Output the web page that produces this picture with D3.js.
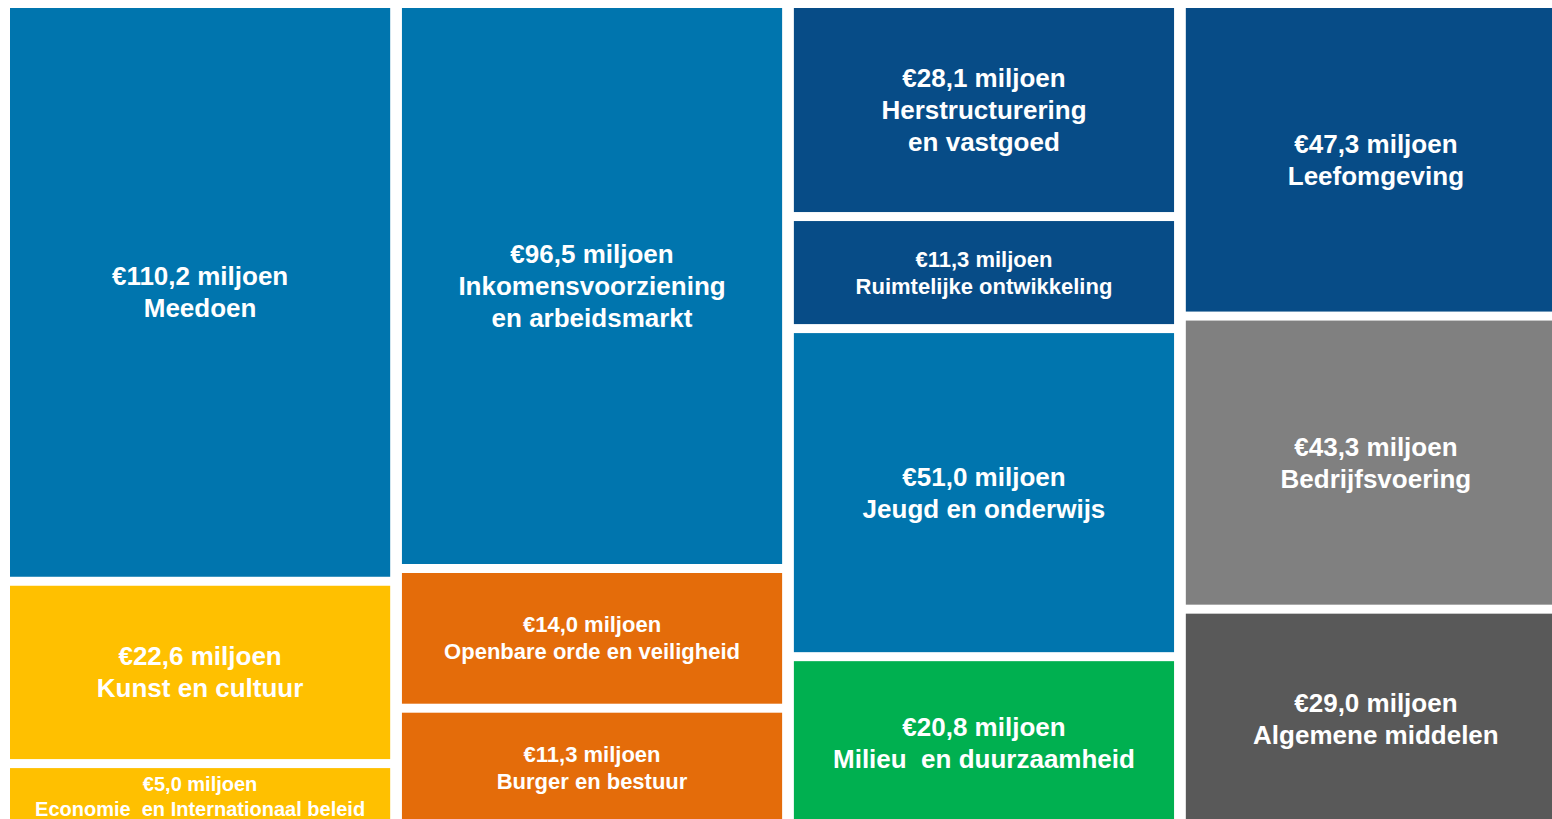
<!DOCTYPE html>
<html lang="nl">
<head>
<meta charset="utf-8">
<script src="https://cdn.jsdelivr.net/npm/d3@7"></script>
<style>
  html, body { margin: 0; padding: 0; background: #ffffff; overflow: hidden; }
  svg { display: block; }
  text { font-family: "Liberation Sans", Arial, sans-serif; font-weight: bold; fill: #ffffff; }
</style>
</head>
<body>
<svg id="chart" width="1552" height="819"></svg>
<script>
// Begroting per programma (bedragen in miljoenen euro's)
const categories = [
  "Meedoen", "Kunst en cultuur", "Economie  en Internationaal beleid",
  "Inkomensvoorziening en arbeidsmarkt", "Openbare orde en veiligheid", "Burger en bestuur",
  "Herstructurering en vastgoed", "Ruimtelijke ontwikkeling", "Jeugd en onderwijs", "Milieu  en duurzaamheid",
  "Leefomgeving", "Bedrijfsvoering", "Algemene middelen"
];
const values = [110.2, 22.6, 5.0, 96.5, 14.0, 11.3, 28.1, 11.3, 51.0, 20.8, 47.3, 43.3, 29.0];
const columnOf = [0, 0, 0, 1, 1, 1, 2, 2, 2, 2, 3, 3, 3];
const columns = [0, 1, 2, 3];

// Kleuren per programma
const palette = {
  "Meedoen": "#0075ae",
  "Kunst en cultuur": "#ffc000",
  "Economie  en Internationaal beleid": "#ffc000",
  "Inkomensvoorziening en arbeidsmarkt": "#0075ae",
  "Openbare orde en veiligheid": "#e46c0a",
  "Burger en bestuur": "#e46c0a",
  "Herstructurering en vastgoed": "#074c87",
  "Ruimtelijke ontwikkeling": "#074c87",
  "Jeugd en onderwijs": "#0075ae",
  "Milieu  en duurzaamheid": "#00b050",
  "Leefomgeving": "#074c87",
  "Bedrijfsvoering": "#808080",
  "Algemene middelen": "#595959"
};
const colour = d3.scaleOrdinal().domain(Object.keys(palette)).range(Object.values(palette));

const nl = d3.formatLocale({ decimal: ",", thousands: ".", grouping: [3], currency: ["€", ""] });
const fmt = nl.format(".1f");

const svg = d3.select("#chart");
const yTop = 8, yBottom = 824, gap = 9;

// Gelijke kolommen naast elkaar
const x = d3.scaleBand().domain(columns).range([10, 1566]).paddingInner(0.03).paddingOuter(0);

// Blokhoogte groeit met een machtsschaal van het bedrag
const size = d3.scalePow().exponent(0.75).domain([0, 1]).range([0, 1]);

// Lettergrootte naar bedrag
const fontSize = d3.scaleThreshold().domain([10, 20]).range([20, 22, 26]);

const cells = [];
columns.forEach(c => {
  const idx = values.map((v, i) => i).filter(i => columnOf[i] === c);
  const total = d3.sum(idx, i => size(values[i]));
  const avail = (yBottom - yTop) - gap * (idx.length - 1);
  const y = d3.scaleLinear().domain([0, total]).range([0, avail]);
  let acc = 0;
  idx.forEach((i, k) => {
    const y0 = yTop + y(acc) + k * gap;
    acc += size(values[i]);
    const y1 = yTop + y(acc) + k * gap;
    cells.push({ i, name: categories[i], value: values[i], x0: x(c), x1: x(c) + x.bandwidth(), y0, y1 });
  });
});

const g = svg.selectAll("g.cell").data(cells).join("g").attr("class", "cell");

g.append("rect")
  .attr("x", d => d.x0)
  .attr("y", d => d.y0)
  .attr("width", d => d.x1 - d.x0)
  .attr("height", d => d.y1 - d.y0)
  .attr("fill", d => colour(d.name));

g.each(function(d) {
  const fs = fontSize(d.value);
  const lh = Math.round(fs * 1.23);
  const sel = d3.select(this);
  const cx = (d.x0 + d.x1) / 2;
  // meet de naam; te breed -> afbreken voor " en "
  const probe = sel.append("text").style("font-size", fs + "px").text(d.name);
  const wdt = probe.node().getComputedTextLength();
  probe.remove();
  let nameLines = [d.name];
  if (wdt > (d.x1 - d.x0) - 40 && d.name.includes(" en ")) {
    const k = d.name.indexOf(" en ");
    nameLines = [d.name.slice(0, k), d.name.slice(k + 1)];
  }
  const lines = ["€" + fmt(d.value) + " miljoen", ...nameLines];
  const cy = (d.y0 + d.y1) / 2;
  const t = sel.append("text")
    .attr("text-anchor", "middle")
    .style("font-size", fs + "px")
    .style("white-space", "pre");
  lines.forEach((ln, j) => {
    t.append("tspan")
      .attr("x", cx)
      .attr("y", cy + (j - (lines.length - 1) / 2) * lh)
      .attr("dominant-baseline", "central")
      .text(ln);
  });
});
</script>
</body>
</html>
